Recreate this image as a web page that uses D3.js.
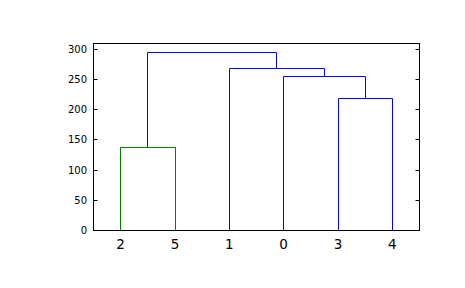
<!DOCTYPE html>
<html>
<head>
<meta charset="utf-8">
<script src="https://cdn.jsdelivr.net/npm/d3@7"></script>
<style>
  body { margin: 0; background: #fff; }
  svg { display: block; font-family: "DejaVu Sans", sans-serif; }
</style>
</head>
<body>
<figure id="chart" style="margin:0"></figure>
<script>
// linkage rows: [left cluster, right cluster, height]; ids >= 6 are earlier merges
const nLeaves = 6;
const mergeLeft = [2, 3, 0, 1, 6];
const mergeRight = [5, 4, 7, 8, 9];
const mergeHeight = [137, 219, 254, 268, 294.5];
const yTicks = [0, 50, 100, 150, 200, 250, 300];

const colorThreshold = 0.7 * d3.max(mergeHeight);
const aboveColor = "#0000ff";
const clusterColors = ["#008000", "#ff0000", "#00bfbf", "#bf00bf"];

const W = 465, H = 288;
const margin = { left: 93.5, top: 43.5, right: 45.5, bottom: 57.5 };
const width = W - margin.left - margin.right;
const height = H - margin.top - margin.bottom;

const svg = d3.select("#chart").append("svg")
  .attr("width", W).attr("height", H);

const g = svg.append("g")
  .attr("transform", "translate(" + margin.left + "," + margin.top + ")");

// leaf order by walking the tree from the root
const root = nLeaves + mergeHeight.length - 1;
const order = [];
function walk(id) {
  if (id < nLeaves) { order.push(id); return; }
  const k = id - nLeaves;
  walk(mergeLeft[k]);
  walk(mergeRight[k]);
}
walk(root);

const x = d3.scaleLinear().domain([0, nLeaves * 10]).range([0, width]);
const y = d3.scaleLinear().domain([0, d3.max(mergeHeight) * 1.05]).range([height, 0]);

// x position / height per node
const pos = {}, hgt = {}, col = {};
order.forEach((id, i) => { pos[id] = 5 + 10 * i; hgt[id] = 0; });
let nextColor = 0;
function clusterColor(id) {
  if (col[id] !== undefined) return col[id];
  const k = id - nLeaves;
  const h = mergeHeight[k];
  let c;
  if (h >= colorThreshold) c = aboveColor;
  else {
    // below threshold: inherit from parent if it is below too, handled by caller
    c = null;
  }
  col[id] = c;
  return c;
}
const links = [];
for (let k = 0; k < mergeHeight.length; k++) {
  const id = nLeaves + k, a = mergeLeft[k], b = mergeRight[k];
  pos[id] = (pos[a] + pos[b]) / 2;
  hgt[id] = mergeHeight[k];
  links.push({ id: id, a: a, b: b });
}
// colours: top-down, a subtree whose root is below threshold gets its own colour
function paint(id, c) {
  if (id < nLeaves) return;
  const k = id - nLeaves;
  let cc = c;
  if (cc === null) {
    if (mergeHeight[k] < colorThreshold) { cc = clusterColors[nextColor++ % clusterColors.length]; }
    else cc = null;
  }
  col[id] = cc === null ? aboveColor : cc;
  paint(mergeLeft[k], cc);
  paint(mergeRight[k], cc);
}
paint(root, null);

g.selectAll("path.link")
  .data(links)
  .enter()
  .append("path")
  .attr("class", "link")
  .attr("fill", "none")
  .attr("stroke", d => col[d.id])
  .attr("stroke-width", 1)
  .attr("d", d => {
    const xa = Math.round(x(pos[d.a])), xb = Math.round(x(pos[d.b]));
    const yt = Math.round(y(hgt[d.id]));
    return "M" + xa + "," + Math.round(y(hgt[d.a])) + "V" + yt + "H" + xb + "V" + Math.round(y(hgt[d.b]));
  });

// frame
g.append("rect")
  .attr("width", width).attr("height", height)
  .attr("fill", "none").attr("stroke", "#000").attr("stroke-width", 1);

// y ticks inward, both sides
const yAxis = g.append("g");
yAxis.selectAll("line.tl")
  .data(yTicks).enter().append("line")
  .attr("x1", 0).attr("x2", 4)
  .attr("y1", d => Math.round(y(d))).attr("y2", d => Math.round(y(d)))
  .attr("stroke", "#000");
yAxis.selectAll("line.tr")
  .data(yTicks).enter().append("line")
  .attr("x1", width).attr("x2", width - 4)
  .attr("y1", d => Math.round(y(d))).attr("y2", d => Math.round(y(d)))
  .attr("stroke", "#000");
yAxis.selectAll("text")
  .data(yTicks).enter().append("text")
  .attr("x", -6.5)
  .attr("y", d => y(d))
  .attr("dy", "0.36em")
  .attr("text-anchor", "end")
  .attr("font-size", 10)
  .text(d => d);

// leaf labels
g.selectAll("text.leaf")
  .data(order).enter().append("text")
  .attr("class", "leaf")
  .attr("x", (d, i) => x(5 + 10 * i))
  .attr("y", height + 18)
  .attr("text-anchor", "middle")
  .attr("font-size", 13.5)
  .text(d => d);
</script>
</body>
</html>
